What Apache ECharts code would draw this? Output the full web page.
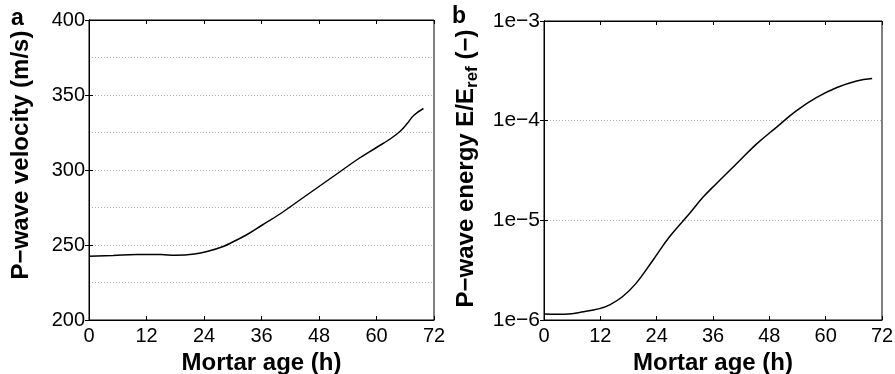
<!DOCTYPE html>
<html><head><meta charset="utf-8">
<script src="https://cdn.jsdelivr.net/npm/echarts@6/dist/echarts.min.js"></script>
<style>html,body{margin:0;padding:0;background:#fff}#c{width:895px;height:374px}</style>
</head><body><div id="c"></div>
<script>
const hours = [0,5,10,15,18,22,25,28,30,33,36,40,44,48,52,56,60,63,65,66.4,67.8,69.8];
const velocity = [242.5,243,243.6,243.6,243.2,244,246,249,252,257,263,271,280,289,298,307,315,321,326,331,336.5,341];
const energyHours = [0,3,5.3,8,11.8,14,16.7,19.6,23.2,26.7,31,33.9,36.7,41,45.3,49.5,53.8,58.1,62.4,66.6,69.9];
const energy = [1.15e-6,1.14e-6,1.15e-6,1.2e-6,1.3e-6,1.42e-6,1.71e-6,2.33e-6,3.98e-6,6.8e-6,1.17e-5,1.71e-5,2.33e-5,3.69e-5,5.85e-5,8.57e-5,1.26e-4,1.71e-4,2.15e-4,2.5e-4,2.65e-4];
const xTicks = [0,12,24,36,48,60,72];
const vTicks = [200,250,300,350,400];
const eTickLabels = {'-6':'1e\u22126','-5':'1e\u22125','-4':'1e\u22124','-3':'1e\u22123'};

const FF = '"Liberation Sans", Arial, sans-serif';
const grid = (d) => ({show:true, borderColor:'#000', borderWidth:1, containLabel:false, outerBoundsMode:'none', ...d});
const dotted = {show:true, lineStyle:{color:'#b0b0b0', type:[1,2], width:1}};
function xAx(gi, pos, showLab) {
  return {type:'value', gridIndex:gi, position:pos, min:0, max:72, interval:12,
    axisLine:{show:true, lineStyle:{color:'#000', width:1}},
    axisTick:{show:true, inside:true, length:4, lineStyle:{color:'#000'}},
    axisLabel:{show:showLab, color:'#000', fontSize:20, fontFamily:FF, margin:6},
    splitLine:{show:false},
    name: showLab ? 'Mortar age (h)' : '', nameLocation:'middle', nameGap:27,
    nameTextStyle:{color:'#000', fontSize:24, fontWeight:'bold', fontFamily:FF}};
}
const option = {
  animation:false,
  graphic:[
    {type:'text', left:11, top:7, style:{text:'a', font:'bold 23px '+FF, fill:'#000'}},
    {type:'text', left:452, top:5, style:{text:'b', font:'bold 23px '+FF, fill:'#000'}}
  ],
  grid:[grid({left:89, right:461, top:20, height:300}), grid({left:544, right:13, top:21, height:299})],
  xAxis:[xAx(0,'bottom',true), xAx(0,'top',false), xAx(1,'bottom',true), xAx(1,'top',false)],
  yAxis:[
    {type:'value', gridIndex:0, position:'left', min:200, max:400, interval:50,
     axisLine:{show:true, lineStyle:{color:'#000'}},
     axisTick:{show:true, inside:true, length:4, lineStyle:{color:'#000'}},
     axisLabel:{color:'#000', fontSize:20, fontFamily:FF, margin:4},
     splitLine:dotted, minorTick:{show:false, splitNumber:2}, minorSplitLine:dotted,
     name:'P\u2212wave velocity (m/s)', nameLocation:'middle', nameGap:56,
     nameTextStyle:{color:'#000', fontSize:24, fontWeight:'bold', fontFamily:FF, padding:[0,0,0,30]}},
    {type:'value', gridIndex:0, position:'right', min:200, max:400, interval:50,
     axisLine:{show:true, lineStyle:{color:'#000'}},
     axisTick:{show:true, inside:true, length:4, lineStyle:{color:'#000'}},
     axisLabel:{show:false}, splitLine:{show:false}},
    {type:'log', logBase:10, gridIndex:1, position:'left', min:1e-6, max:1e-3,
     axisLine:{show:true, lineStyle:{color:'#000'}},
     axisTick:{show:true, inside:true, length:4, lineStyle:{color:'#000'}},
     axisLabel:{color:'#000', fontSize:21, fontFamily:FF, margin:4,
       formatter:(v)=>eTickLabels[String(Math.round(Math.log10(v)))] || ''},
     splitLine:dotted,
     name:'{a|P\u2212wave energy E/E}{s|ref}{a| (\u2212)}', nameLocation:'middle', nameGap:63,
     nameTextStyle:{padding:[0,0,0,4], rich:{
       a:{color:'#000', fontSize:24, fontWeight:'bold', fontFamily:FF},
       s:{color:'#000', fontSize:17, fontWeight:'bold', fontFamily:FF, verticalAlign:'bottom', padding:[12,0,0,0]}}}},
    {type:'log', logBase:10, gridIndex:1, position:'right', min:1e-6, max:1e-3,
     axisLine:{show:true, lineStyle:{color:'#000'}},
     axisTick:{show:true, inside:true, length:4, lineStyle:{color:'#000'}},
     axisLabel:{show:false}, splitLine:{show:false}}
  ],
  series:[
    {type:'line', xAxisIndex:0, yAxisIndex:0, data:hours.map((h,i)=>[h,velocity[i]]),
     smooth:0.4, showSymbol:false, lineStyle:{color:'#000', width:1.5}},
    {type:'line', xAxisIndex:2, yAxisIndex:2, data:energyHours.map((h,i)=>[h,energy[i]]),
     smooth:0.4, showSymbol:false, lineStyle:{color:'#000', width:1.5}}
  ]
};
echarts.init(document.getElementById('c'), null, {renderer:'canvas'}).setOption(option);
</script></body></html>
